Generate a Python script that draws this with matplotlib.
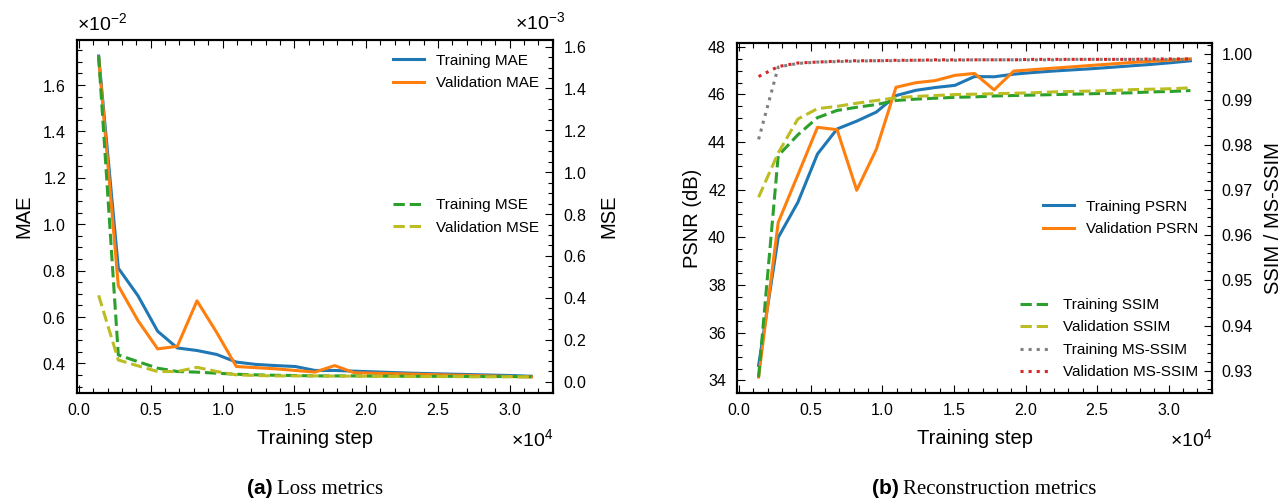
import matplotlib
matplotlib.use("Agg")
import matplotlib.pyplot as plt
from matplotlib.ticker import MultipleLocator, ScalarFormatter

# ---------------- data ----------------
steps = [1370, 2740, 4110, 5480, 6850, 8220, 9590, 10960, 12330, 13700, 15070,
         16440, 17810, 19180, 20550, 21920, 23290, 24660, 26030, 27400, 28770,
         30140, 31510]

train_mae = [1.725, 0.811, 0.692, 0.539, 0.467, 0.456, 0.439, 0.406, 0.396, 0.391,
             0.387, 0.370, 0.370, 0.367, 0.364, 0.361, 0.358, 0.356, 0.354, 0.352,
             0.350, 0.348, 0.345]          # x 1e-2
val_mae = [1.720, 0.735, 0.585, 0.463, 0.474, 0.670, 0.534, 0.387, 0.382, 0.377,
           0.370, 0.363, 0.391, 0.360, 0.358, 0.356, 0.354, 0.352, 0.350, 0.348,
           0.346, 0.344, 0.342]            # x 1e-2
train_mse = [1.555, 0.127, 0.095, 0.064, 0.048, 0.045, 0.040, 0.035, 0.032, 0.030,
             0.029, 0.027, 0.027, 0.027, 0.026, 0.026, 0.025, 0.025, 0.025, 0.024,
             0.024, 0.024, 0.023]          # x 1e-3
val_mse = [0.412, 0.103, 0.075, 0.048, 0.048, 0.068, 0.048, 0.032, 0.029, 0.027,
           0.027, 0.027, 0.026, 0.026, 0.025, 0.025, 0.024, 0.024, 0.024, 0.023,
           0.023, 0.023, 0.022]            # x 1e-3

train_psnr = [34.63, 40.00, 41.47, 43.50, 44.55, 44.88, 45.26, 45.95, 46.17, 46.29,
              46.38, 46.75, 46.74, 46.85, 46.92, 46.98, 47.03, 47.08, 47.14, 47.20,
              47.26, 47.33, 47.41]
val_psnr = [34.14, 40.63, 42.62, 44.62, 44.52, 41.98, 43.70, 46.30, 46.49, 46.58,
            46.80, 46.88, 46.19, 46.98, 47.04, 47.10, 47.16, 47.22, 47.28, 47.34,
            47.39, 47.44, 47.49]
train_ssim = [0.9286, 0.9776, 0.9822, 0.9860, 0.9876, 0.9883, 0.9889, 0.9898, 0.9901,
              0.9903, 0.9905, 0.9906, 0.9908, 0.9909, 0.9910, 0.9911, 0.9912, 0.9913,
              0.9914, 0.9915, 0.9917, 0.9918, 0.9920]
val_ssim = [0.9684, 0.9782, 0.9857, 0.9880, 0.9885, 0.9892, 0.9898, 0.9904, 0.9907,
            0.9909, 0.9911, 0.9912, 0.9913, 0.9914, 0.9915, 0.9917, 0.9918, 0.9919,
            0.9920, 0.9922, 0.9923, 0.9924, 0.9926]
train_msssim = [0.9812, 0.9972, 0.9980, 0.9983, 0.9984, 0.9985, 0.9986, 0.9986, 0.9987,
                0.9987, 0.9987, 0.9988, 0.9988, 0.9988, 0.9988, 0.9988, 0.9989, 0.9989,
                0.9989, 0.9989, 0.9989, 0.9989, 0.9989]
val_msssim = [0.9951, 0.9973, 0.9981, 0.9983, 0.9985, 0.9986, 0.9986, 0.9987, 0.9987,
              0.9988, 0.9988, 0.9988, 0.9988, 0.9988, 0.9989, 0.9989, 0.9989, 0.9989,
              0.9989, 0.9989, 0.9990, 0.9990, 0.9990]

# ---------------- style ----------------
plt.rcParams.update({
    "font.family": ["Liberation Sans", "DejaVu Sans"],
    "mathtext.fontset": "custom",
    "mathtext.rm": "Liberation Sans",
    "mathtext.it": "Liberation Sans:italic",
    "mathtext.bf": "Liberation Sans:bold",
    "axes.linewidth": 1.5,
    "xtick.major.size": 6, "ytick.major.size": 6,
    "xtick.minor.size": 3.5, "ytick.minor.size": 3.5,
    "xtick.major.width": 0.8, "ytick.major.width": 0.8,
    "xtick.minor.width": 0.8, "ytick.minor.width": 0.8,
    "xtick.major.pad": 6.5, "ytick.major.pad": 8,
    "xtick.labelsize": 11.5, "ytick.labelsize": 11.5,
    "axes.labelsize": 14.5,
    "legend.fontsize": 11,
})

C_BLUE, C_ORANGE, C_GREEN, C_OLIVE, C_GRAY, C_RED = (
    "#1f77b4", "#ff7f0e", "#2ca02c", "#bcbd22", "#7f7f7f", "#d62728")
LW = 2.2
OFFS = 14

fig = plt.figure(figsize=(12.86, 5.0), dpi=100)
axL = fig.add_axes([77 / 1286, 107 / 500, 476 / 1286, 353 / 500])
axR = fig.add_axes([737 / 1286, 107 / 500, 475 / 1286, 350 / 500])


def sci(ax, axis):
    fmt = ScalarFormatter(useMathText=True)
    fmt.set_powerlimits((0, 0))
    if axis == "x":
        ax.xaxis.set_major_formatter(fmt)
    else:
        ax.yaxis.set_major_formatter(fmt)


def style_main(ax):
    ax.tick_params(which="both", direction="in", top=True, right=False,
                   bottom=True, left=True)
    ax.xaxis.set_major_locator(MultipleLocator(5000))
    ax.xaxis.set_minor_locator(MultipleLocator(1000))
    sci(ax, "x")
    ax.xaxis.get_offset_text().set_fontsize(OFFS)
    ax.xaxis.OFFSETTEXTPAD = 7
    ax.set_xlabel("Training step", labelpad=8)


def style_twin(tw):
    tw.tick_params(which="both", direction="in", right=True, left=False,
                   top=False, bottom=False, pad=7)


# ---------------- (a) Loss metrics ----------------
mae_scale = 1e-2
mse_scale = 1e-3
axL.plot(steps, [v * mae_scale for v in train_mae], color=C_BLUE, lw=LW,
         label="Training MAE")
axL.plot(steps, [v * mae_scale for v in val_mae], color=C_ORANGE, lw=LW,
         label="Validation MAE")
style_main(axL)
axL.yaxis.set_major_locator(MultipleLocator(0.002))
axL.yaxis.set_minor_locator(MultipleLocator(0.0005))
sci(axL, "y")
axL.yaxis.get_offset_text().set_fontsize(OFFS)
axL.yaxis.OFFSETTEXTPAD = 7
axL.set_ylabel("MAE", labelpad=6)
axL.legend(loc="upper right", frameon=False, labelspacing=0.55)

twL = axL.twinx()
twL.plot(steps, [v * mse_scale for v in train_mse], color=C_GREEN, lw=LW,
         ls="--", label="Training MSE")
twL.plot(steps, [v * mse_scale for v in val_mse], color=C_OLIVE, lw=LW,
         ls="--", label="Validation MSE")
style_twin(twL)
twL.yaxis.set_major_locator(MultipleLocator(0.0002))
twL.yaxis.set_minor_locator(MultipleLocator(0.00005))
sci(twL, "y")
twL.yaxis.get_offset_text().set_visible(False)
twL.text(1 + 12 / 476, 1 + 7 / 353, r"$\times10^{-3}$", transform=twL.transAxes,
         ha="right", va="bottom", fontsize=OFFS)
twL.set_ylabel("MSE", labelpad=9)
twL.legend(loc="center right", frameon=False, labelspacing=0.55)

# ---------------- (b) Reconstruction metrics ----------------
axR.plot(steps, train_psnr, color=C_BLUE, lw=LW, label="Training PSRN")
axR.plot(steps, val_psnr, color=C_ORANGE, lw=LW, label="Validation PSRN")
style_main(axR)
axR.yaxis.set_major_locator(MultipleLocator(2))
axR.yaxis.set_minor_locator(MultipleLocator(0.5))
axR.set_ylabel("PSNR (dB)", labelpad=4)
axR.legend(loc="center right", frameon=False, labelspacing=0.55)

twR = axR.twinx()
twR.plot(steps, train_ssim, color=C_GREEN, lw=LW, ls="--", label="Training SSIM")
twR.plot(steps, val_ssim, color=C_OLIVE, lw=LW, ls="--", label="Validation SSIM")
twR.plot(steps, train_msssim, color=C_GRAY, lw=LW, ls=":", label="Training MS-SSIM")
twR.plot(steps, val_msssim, color=C_RED, lw=LW, ls=":", label="Validation MS-SSIM")
style_twin(twR)
twR.yaxis.set_major_locator(MultipleLocator(0.01))
twR.yaxis.set_minor_locator(MultipleLocator(0.002))
twR.yaxis.set_major_formatter(plt.FormatStrFormatter("%.2f"))
twR.set_ylabel("SSIM / MS-SSIM", labelpad=8)
twR.legend(loc="lower right", frameon=False, labelspacing=0.55)

# ---------------- captions ----------------
cap_y = 1 - 489 / 500
CAP = 15
fig.text(273 / 1286, cap_y, "(a)", ha="right", va="center", fontsize=CAP,
         fontweight="bold", family="Liberation Sans")
fig.text(277 / 1286, cap_y, "Loss metrics", ha="left", va="center", fontsize=CAP,
         family="Liberation Serif")
fig.text(899 / 1286, cap_y, "(b)", ha="right", va="center", fontsize=CAP,
         fontweight="bold", family="Liberation Sans")
fig.text(903 / 1286, cap_y, "Reconstruction metrics", ha="left", va="center",
         fontsize=CAP, family="Liberation Serif")

fig.savefig("out.png", dpi=100)
